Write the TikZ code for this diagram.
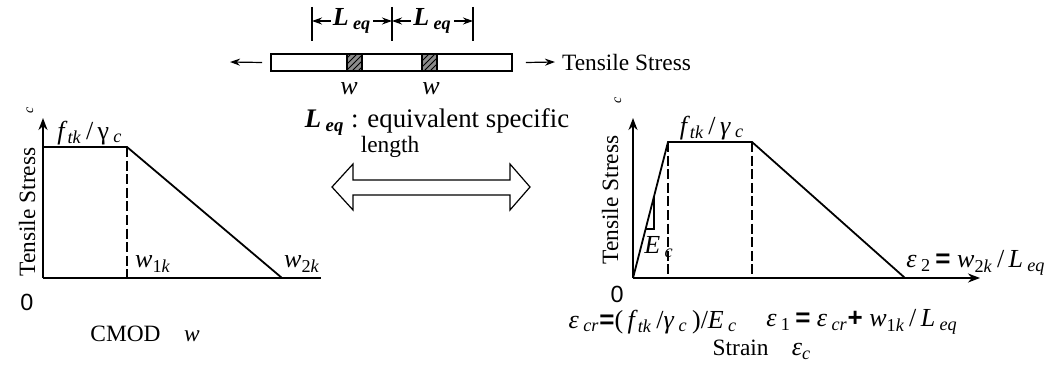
\documentclass[tikz,border=0pt]{standalone}
\usepackage{fontspec}
\setmainfont{Liberation Serif}
\newfontfamily\zerofont{Liberation Sans}
\usetikzlibrary{arrows.meta,patterns}
\newcommand{\sbs}[1]{\textsubscript{\itshape #1}}
\newcommand{\eqsign}[1]{{\zerofont\bfseries #1}}
\tikzset{
  axis/.style={line width=1pt, -{Stealth[length=6pt,width=4.5pt]}},
  curve/.style={line width=0.9pt},
  guide/.style={line width=0.6pt, dash pattern=on 5pt off 1.8pt},
  pull/.style={line width=0.6pt, -{Stealth[length=5pt,width=3.5pt]}},
  dim/.style={line width=0.6pt, {Stealth[length=5pt,width=3.5pt]}-{Stealth[length=5pt,width=3.5pt]}},
  crack/.style={draw, line width=0.6pt, fill=black!45, postaction={pattern=north east lines}},
  sidelabel/.style={rotate=90},
  tinyc/.style={rotate=90, font=\fontsize{7}{8}\selectfont\itshape},
  mathlbl/.style={font=\fontsize{13}{15}\selectfont}
}
\begin{document}
\begin{tikzpicture}[x=0.5pt, y=-0.5pt, font=\fontsize{11.7}{14}\selectfont]
    \useasboundingbox (0,0) rectangle (1053,369);

    % Bar under tension
    \node[draw, line width=0.8pt, minimum width=120.5pt, minimum height=8.5pt, inner sep=0pt] (bar) at (391.5,62.5) {};
    \foreach \x in {347,422} {
        \draw[crack] (\x,54) rectangle ++(15,17);
    }
    \coordinate (pullL) at (230,62);
    \node[anchor=west] (ts) at (555,62) {Tensile Stress};
    \draw[pull] ([xshift=-4pt]bar.west) -- (pullL);
    \draw[pull] ([xshift=6.5pt]bar.east) -- (ts.west);
    \node[mathlbl] (w1) at (349,89) {\textit{w}};
    \node[mathlbl] (w2) at (431,89) {\textit{w}};

    % Equivalent length dimensions
    \foreach \x/\n in {312/a,392/b,473/c} {
        \draw[line width=0.6pt] (\x,7) -- (\x,41);
        \coordinate (d\n) at (\x,21);
    }
    \draw[dim] (da) -- node[mathlbl, fill=white, inner sep=1pt] {\bfseries\itshape L\,\sbs{eq}} (db);
    \draw[dim] (db) -- node[mathlbl, fill=white, inner sep=1pt] {\bfseries\itshape L\,\sbs{eq}} (dc);

    % Legend and double arrow
    \node[font=\fontsize{13.4}{15}\selectfont] (leq) at (437,122) {{\bfseries\itshape L\,\sbs{eq}} : equivalent specific};
    \node (len) at (390,147) {length};
    \draw[line width=0.6pt] (332,187) -- (353,164) -- (353,180) -- (510,180) -- (510,164)
        -- (530,187) -- (510,210) -- (510,195) -- (353,195) -- (353,210) -- cycle;

    % Left: stress - crack opening
    \coordinate (lO) at (43,278);
    \coordinate (lY) at (43,118);
    \coordinate (lX) at (321,278);
    \coordinate (lP) at (43,147);
    \coordinate (lA) at (127,147);
    \coordinate (lB) at (282,278);
    \draw[axis] (lO) -- (lY);
    \draw[line width=1pt] (lO) -- (lX);
    \draw[curve] (lP) -- (lA) -- (lB);
    \draw[guide] (lA) -- (lA |- lO);
    \node[sidelabel] (lys) at (27,212) {Tensile Stress};
    \node[tinyc] (lyc) at (30,110) {c};
    \node[mathlbl] (lft) at (90,133) {\textit{f}\sbs{tk}\,/\,γ\,\sbs{c}};
    \node[mathlbl] (lw1) at (153,264) {\textit{w}\textsubscript{1\itshape k}};
    \node[mathlbl] (lw2) at (302,264) {\textit{w}\textsubscript{2\itshape k}};
    \node (l0) at (27,302) {\zerofont 0};
    \node (lxs) at (145,334) {CMOD\quad\textit{w}};

    % Right: stress - strain
    \coordinate (rO) at (633,278);
    \coordinate (rY) at (633,118);
    \coordinate (rX) at (980,278);
    \coordinate (rA) at (668,142);
    \coordinate (rB) at (752,142);
    \coordinate (rC) at (905,278);
    \draw[axis] (rO) -- (rY);
    \draw[axis] (rO) -- (rX);
    \draw[curve] (rO) -- (rA) -- (rB) -- (rC);
    \draw[guide] (rA) -- (rA |- rO);
    \draw[guide] (rB) -- (rB |- rO);
    \draw[line width=0.6pt] (654,197) -- (654,229) -- (645.4,229);
    \node[sidelabel] (rys) at (610,200) {Tensile Stress};
    \node[tinyc] (ryc) at (618,100) {c};
    \node[mathlbl] (rft) at (712,128) {\textit{f}\sbs{tk}\,/\,\textit{γ}\,\sbs{c}};
    \node[mathlbl] (rE) at (659,247) {\textit{E}\,\sbs{c}};
    \node (r0) at (617,294) {\zerofont 0};
    \node[mathlbl] (re2) at (976,263) {\textit{ε}\,\textsubscript{2}\,\eqsign{=}\ \textit{w}\textsubscript{2\itshape k}\,/\,\textit{L}\,\sbs{eq}};
    \node[mathlbl] (recr) at (653,322) {\textit{ε}\,\sbs{cr}\eqsign{=}(\,\textit{f}\sbs{tk}\,/\textit{γ}\,\sbs{c}\,)/\textit{E}\,\sbs{c}};
    \node[mathlbl] (re1) at (862,322) {\textit{ε}\,\textsubscript{1}\,\eqsign{=}\ \textit{ε}\,\sbs{cr}\eqsign{+}\ \textit{w}\textsubscript{1\itshape k}\,/\,\textit{L}\,\sbs{eq}};
    \node (rxs) at (762,350) {Strain\quad{\fontsize{13}{15}\selectfont\textit{ε}\sbs{c}}};
\end{tikzpicture}
\end{document}
